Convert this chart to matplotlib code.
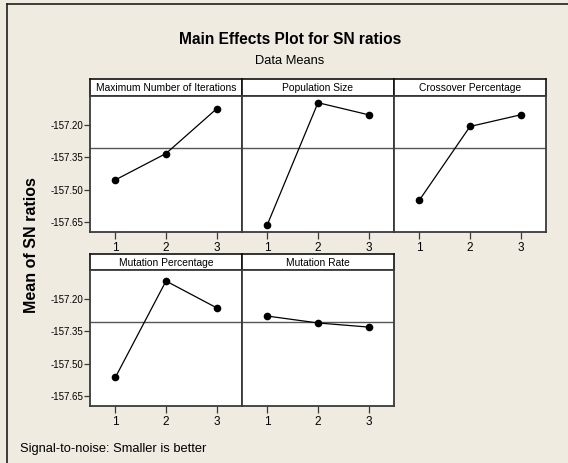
import numpy as np
import matplotlib.pyplot as plt
from matplotlib.lines import Line2D

plt.rcParams['font.family'] = ['Liberation Sans', 'DejaVu Sans']

# Factores y medias de SN por nivel
factors = ['Maximum Number of Iterations', 'Population Size', 'Crossover Percentage',
           'Mutation Percentage', 'Mutation Rate']
levels = [1, 2, 3]
max_iter = [-157.455, -157.333, -157.126]
pop_size = [-157.662, -157.098, -157.154]
crossover = [-157.549, -157.208, -157.154]
mut_pct = [-157.564, -157.118, -157.242]
mut_rate = [-157.280, -157.312, -157.331]
yticks = [-157.20, -157.35, -157.50, -157.65]

series = [max_iter, pop_size, crossover, mut_pct, mut_rate]
grand_mean = np.mean(series)

W, H = 568, 463
fig = plt.figure(figsize=(W / 100, H / 100), dpi=100)
fig.patch.set_facecolor('#efebe1')

def px_axes(x0, y0, x1, y1):
    return fig.add_axes([x0 / W, 1 - y1 / H, (x1 - x0) / W, (y1 - y0) / H])

# marco exterior (solo arriba e izquierda)
fig.add_artist(Line2D([6.5 / W, 1], [1 - 4 / H, 1 - 4 / H], color='#202020', lw=1.2))
fig.add_artist(Line2D([6.5 / W, 6.5 / W], [0, 1 - 4 / H], color='#202020', lw=1.2))

fig.text(290 / W, 1 - 39 / H, 'Main Effects Plot for SN ratios', ha='center', va='center',
         fontsize=11.2, fontweight='bold')
fig.text(290 / W, 1 - 61 / H, 'Data Means', ha='center', va='center', fontsize=9.3)

cols = [(90, 242), (242, 394), (394, 546)]
rows = [(79, 96, 232), (254, 270, 406)]
edge = '#3a3a3a'

for i, (name, vals) in enumerate(zip(factors, series)):
    r, c = divmod(i, 3)
    x0, x1 = cols[c]
    ht, top, bot = rows[r]

    hd = px_axes(x0, ht, x1, top)
    hd.set_xticks([])
    hd.set_yticks([])
    for s in hd.spines.values():
        s.set_color('#111111')
        s.set_linewidth(1.2)
    hd.text(0.5, 0.45, name, ha='center', va='center', fontsize=7.4, transform=hd.transAxes)

    ax = px_axes(x0, top, x1, bot)
    ax.axhline(grand_mean, color='#555555', lw=1.0, zorder=1)
    ax.plot(levels, vals, color='black', lw=0.9, marker='o', markersize=4.5, zorder=3)
    ax.set_xlim(0.5, 3.5)
    ax.set_ylim(-157.696, -157.067)
    ax.set_xticks(levels)
    ax.set_yticks(yticks)
    ax.tick_params(axis='x', direction='out', length=5, width=0.9, color=edge,
                   labelsize=8.5, pad=2)
    if c == 0:
        ax.set_yticklabels(['%.2f' % v for v in yticks])
        ax.tick_params(axis='y', direction='out', length=4, width=0.9, color=edge,
                       labelsize=7, pad=1)
    else:
        ax.tick_params(axis='y', length=0, labelleft=False)
    for s in ax.spines.values():
        s.set_color(edge)
        s.set_linewidth(1.3)

fig.text(32 / W, 1 - 245 / H, 'Mean of SN ratios', rotation=90, ha='center', va='center',
         fontsize=11.5, fontweight='bold')
fig.text(20 / W, 1 - 449 / H, 'Signal-to-noise: Smaller is better', ha='left', va='center',
         fontsize=9.3)

fig.savefig('out.png', dpi=100, facecolor=fig.get_facecolor())
